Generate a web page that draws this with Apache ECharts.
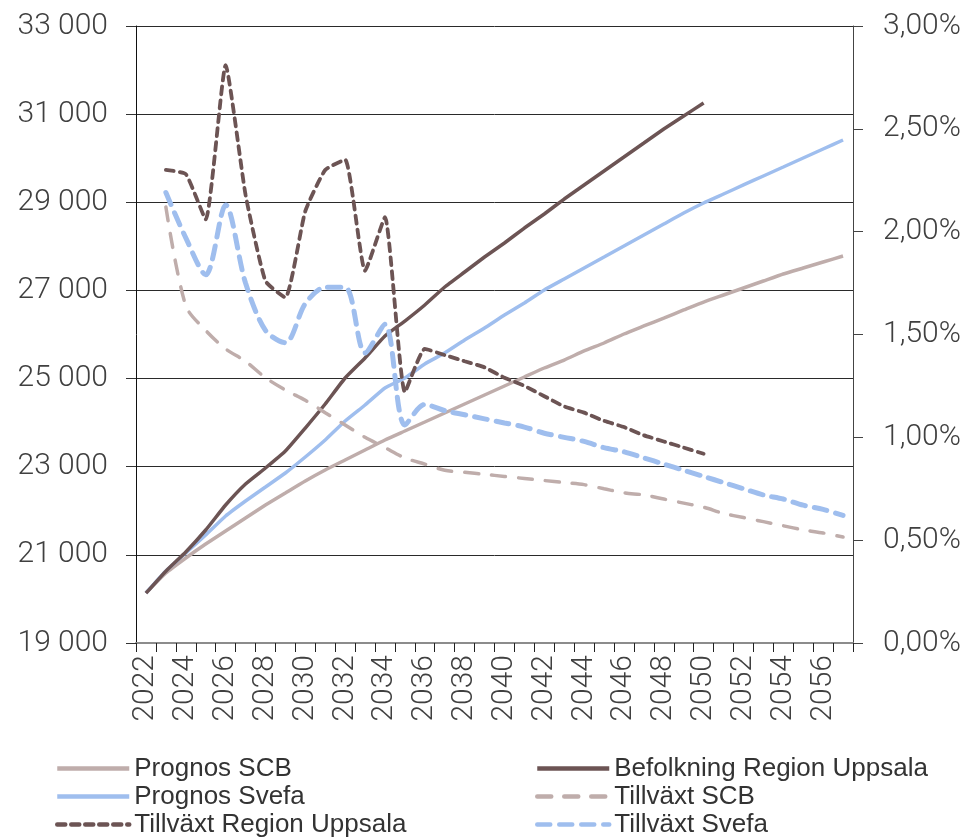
<!DOCTYPE html>
<html>
<head>
<meta charset="utf-8">
<script src="https://cdn.jsdelivr.net/npm/echarts@6/dist/echarts.min.js"></script>
<style>
  html, body { margin: 0; padding: 0; background: #ffffff; }
  #chart { width: 968px; height: 839px; }
</style>
</head>
<body>
<div id="chart"></div>
<script>
// Years on the category axis
const years = [];
for (let y = 2022; y <= 2057; y++) years.push(String(y));

// Population (left axis)
const prognosSCB = [20135, 20588, 20929, 21246, 21541, 21836, 22131, 22404, 22676, 22925,
  23152, 23379, 23606, 23810, 24014, 24219, 24423, 24627, 24831, 25036,
  25240, 25421, 25626, 25807, 26011, 26193, 26374, 26556, 26737, 26896,
  27055, 27214, 27373, 27509, 27645, 27781];
const prognosSvefa = [20135, 20634, 21043, 21450, 21882, 22222, 22540, 22857, 23220, 23606,
  24037, 24400, 24786, 25013, 25331, 25580, 25875, 26147, 26442, 26715,
  27010, 27259, 27509, 27758, 28008, 28258, 28507, 28757, 28984, 29188,
  29393, 29597, 29800, 30005, 30209, 30413];
const befolkningRegion = [20130, 20630, 21065, 21564, 22131, 22608, 22971, 23357, 23878, 24423,
  25013, 25467, 25966, 26306, 26670, 27078, 27418, 27758, 28076, 28416,
  28734, 29074, 29392, 29710, 30027, 30345, 30663, 30958, 31253];

// Annual growth in percent (right axis)
const tillvaxtRegion = [null, 2.30, 2.28, 2.06, 2.81, 2.18, 1.76, 1.68, 2.10, 2.30,
  2.35, 1.81, 2.07, 1.22, 1.43, 1.40, 1.37, 1.34, 1.29, 1.25,
  1.20, 1.15, 1.12, 1.08, 1.05, 1.01, 0.98, 0.95, 0.92];
const tillvaxtSCB = [null, 2.12, 1.64, 1.52, 1.43, 1.37, 1.29, 1.23, 1.18, 1.12,
  1.06, 1.00, 0.95, 0.90, 0.87, 0.84, 0.83, 0.82, 0.81, 0.80,
  0.79, 0.78, 0.77, 0.75, 0.73, 0.72, 0.70, 0.68, 0.66, 0.63,
  0.61, 0.59, 0.57, 0.55, 0.535, 0.515];
const tillvaxtSvefa = [null, 2.19, 1.97, 1.79, 2.13, 1.75, 1.52, 1.46, 1.65, 1.73,
  1.73, 1.41, 1.55, 1.06, 1.16, 1.13, 1.11, 1.09, 1.07, 1.05,
  1.02, 1.00, 0.98, 0.95, 0.93, 0.90, 0.87, 0.84, 0.81, 0.78,
  0.75, 0.72, 0.70, 0.67, 0.65, 0.62];

const DARK = '#6c5454';
const LIGHT = '#bfadab';
const BLUE = '#9fbeee';

const tickFont = { fontFamily: 'Roboto, "Liberation Sans", sans-serif', fontWeight: 300, fontSize: 30, color: '#404040' };
const legendFont = { fontFamily: '"Liberation Sans", Arial, sans-serif', fontSize: 26, lineHeight: 27, color: '#333333' };

function fmtThousands(v) {
  return String(v).replace(/\B(?=(\d{3})+(?!\d))/g, ' ');
}

// Two stacked legend columns under the plot
function legendColumn(left, names) {
  return {
    orient: 'vertical', left: left, top: 755, padding: 0,
    itemWidth: 72, itemHeight: 14, itemGap: 1,
    itemStyle: { opacity: 0 },
    lineStyle: { width: 4.5 },
    textStyle: legendFont,
    data: names
  };
}

const chart = echarts.init(document.getElementById('chart'), null, { renderer: 'canvas' });
chart.setOption({
  animation: false,
  backgroundColor: '#ffffff',
  grid: { left: 136, right: 115, top: 26, bottom: 196, containLabel: false },
  legend: [
    legendColumn(55, ['Prognos SCB', 'Prognos Svefa', 'Tillväxt Region Uppsala']),
    legendColumn(535, ['Befolkning Region Uppsala', 'Tillväxt SCB', 'Tillväxt Svefa'])
  ],
  xAxis: {
    type: 'category',
    data: years,
    boundaryGap: true,
    axisLine: { lineStyle: { color: '#8c8c8c', width: 2 } },
    axisTick: { show: true, interval: 0, length: 9, lineStyle: { color: '#222', width: 1 } },
    axisLabel: Object.assign({ interval: 1, rotate: 90, margin: 12 }, tickFont),
    splitLine: { show: false }
  },
  yAxis: [
    {
      type: 'value', min: 19000, max: 33000, interval: 2000, position: 'left',
      axisLine: { show: true, lineStyle: { color: '#111', width: 1 } },
      axisTick: { show: true, length: 10, lineStyle: { color: '#333', width: 1 } },
      axisLabel: Object.assign({ margin: 28, formatter: fmtThousands }, tickFont),
      splitLine: { show: true, lineStyle: { color: '#2a2a2a', width: 1 } }
    },
    {
      type: 'value', min: 0, max: 3, interval: 0.5, position: 'right',
      axisLine: { show: true, lineStyle: { color: '#444', width: 1 } },
      axisTick: { show: true, length: 10, lineStyle: { color: '#444', width: 1 } },
      axisLabel: Object.assign({ margin: 30, formatter: v => v.toFixed(2).replace('.', ',') + '%' }, tickFont),
      splitLine: { show: false }
    }
  ],
  series: [
    {
      name: 'Prognos SCB', type: 'line', yAxisIndex: 0, data: prognosSCB,
      symbol: 'none', smooth: 0.15, lineStyle: { color: LIGHT, width: 3.5 }, itemStyle: { color: LIGHT }
    },
    {
      name: 'Prognos Svefa', type: 'line', yAxisIndex: 0, data: prognosSvefa,
      symbol: 'none', smooth: 0.15, lineStyle: { color: BLUE, width: 3.5 }, itemStyle: { color: BLUE }
    },
    {
      name: 'Befolkning Region Uppsala', type: 'line', yAxisIndex: 0, data: befolkningRegion,
      symbol: 'none', smooth: 0.15, lineStyle: { color: DARK, width: 3.5 }, itemStyle: { color: DARK }
    },
    {
      name: 'Tillväxt SCB', type: 'line', yAxisIndex: 1, data: tillvaxtSCB,
      symbol: 'none', smooth: 0.3,
      lineStyle: { color: LIGHT, width: 3.5, type: [14, 13], cap: 'round' }, itemStyle: { color: LIGHT }
    },
    {
      name: 'Tillväxt Svefa', type: 'line', yAxisIndex: 1, data: tillvaxtSvefa,
      symbol: 'none', smooth: 0.3,
      lineStyle: { color: BLUE, width: 5, type: [13, 9], cap: 'round' }, itemStyle: { color: BLUE }
    },
    {
      name: 'Tillväxt Region Uppsala', type: 'line', yAxisIndex: 1, data: tillvaxtRegion,
      symbol: 'none', smooth: 0.15,
      lineStyle: { color: DARK, width: 3.8, type: [8, 6], cap: 'round' }, itemStyle: { color: DARK }
    }
  ]
});
</script>
</body>
</html>
